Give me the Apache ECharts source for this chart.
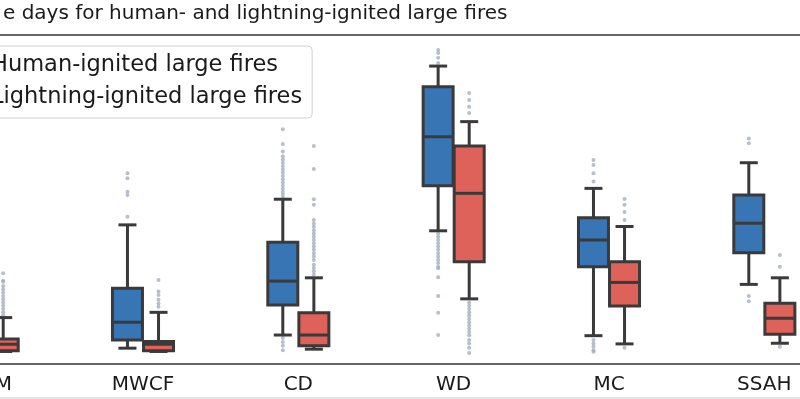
<!DOCTYPE html>
<html>
<head>
<meta charset="utf-8">
<script src="https://cdn.jsdelivr.net/npm/echarts@6/dist/echarts.min.js"></script>
<style>
  html, body { margin: 0; padding: 0; background: #fff; overflow: hidden; width: 800px; height: 399px; position: relative; }
  /* the figure is a crop: the plot runs past both sides of the window */
  #chart { position: absolute; left: -90px; top: 0; width: 932px; height: 399px; }
</style>
</head>
<body>
<div id="chart"></div>
<script>
// ecoregions (first one is cut off at the left edge)
var categories = ['WFM', 'MWCF', 'CD', 'WD', 'MC', 'SSAH'];

// [low whisker, Q1, median, Q3, high whisker]
var humanBoxes = [
    [3.0, 5.0, 8.0, 12.0, 20.0],
    [4.6, 7.1, 12.5, 22.8, 42.1],
    [8.6, 17.7, 25.0, 36.8, 49.9],
    [40.3, 54.0, 68.9, 84.1, 90.4],
    [8.4, 29.4, 37.5, 44.3, 53.2],
    [24.0, 33.6, 42.6, 51.2, 61.0]
];
var lightningBoxes = [
    [3.6, 3.8, 5.8, 7.4, 13.9],
    [3.6, 3.8, 5.8, 6.6, 15.5],
    [4.3, 5.3, 8.6, 15.4, 26.0],
    [19.6, 30.9, 51.7, 66.1, 73.5],
    [5.9, 17.4, 24.6, 30.9, 41.6],
    [6.1, 8.8, 13.7, 18.3, 26.0]
];

// fliers per ecoregion
var humanOutliers = [
    [22, 25, 30],
    [44.6, 51.2, 52.2, 56.3, 57.8],
    [50.3, 51.2, 52.1, 53, 54, 55, 56, 57, 58, 59, 60, 61, 62, 63, 64.4, 66.7, 71.2, 7.7, 6.5, 5.3, 4.0],
    [91.3, 92.9, 94.4, 95.3, 39.5, 38.5, 37.5, 36.5, 35.5, 34.5, 33.5, 32.5, 31.5, 30.5, 29.4, 28.9, 26.2, 20.5, 15.4, 8.6],
    [55.3, 57.8, 60.3, 61.8, 7.1, 6.0, 5.0, 4.0, 3.5],
    [66.9, 68.4, 20.5, 18.9]
];
var lightningOutliers = [
    [14.5, 15.5, 16.5, 17.5, 18.5, 19.5, 20.5, 21.5, 22.5, 23.5, 24.8, 25.1, 27.4],
    [17.2, 18.2, 19.3, 20.8, 21.8, 25.3],
    [26.9, 28, 29, 30, 31.4, 32.5, 33.5, 34.5, 35.5, 36.5, 37.5, 38.5, 39.5, 40.5, 41.5, 42.5, 43.6, 48.2, 49.9, 59.1, 66.1],
    [76.1, 78.0, 80.1, 82.2, 18.5, 17.5, 16.5, 15.5, 14.5, 13.5, 12.5, 11.5, 10.5, 9.5, 8.5, 7.1, 6.0, 4.7, 3.1],
    [43.6, 46.0, 48.2, 50.0, 4.7],
    [29.4, 32.9, 5.0]
];

var BLUE = '#3775b4';
var RED = '#de6259';
var EDGE = '#3a3a3a';
var FLIER = '#a2afc1';

function boxRows(boxes) {
    return boxes.map(function (b, i) { return [i].concat(b); });
}
function flierRows(list) {
    var out = [];
    list.forEach(function (vals, i) {
        vals.forEach(function (v) { out.push([i, v]); });
    });
    return out;
}

// draws a seaborn-like box, shifted sideways by a fraction of the band
function boxRenderer(shift, fill) {
    return function (params, api) {
        var cat = api.value(0);
        var low = api.coord([cat, api.value(1)]);
        var q1 = api.coord([cat, api.value(2)]);
        var med = api.coord([cat, api.value(3)]);
        var q3 = api.coord([cat, api.value(4)]);
        var high = api.coord([cat, api.value(5)]);
        var band = api.size([1, 0])[0];
        var cx = low[0] + band * shift;
        var bw = 30;
        var cw = 9;
        var line = { stroke: EDGE, lineWidth: 3 };
        return {
            type: 'group',
            children: [
                { type: 'line', shape: { x1: cx, y1: high[1], x2: cx, y2: q3[1] }, style: line },
                { type: 'line', shape: { x1: cx, y1: q1[1], x2: cx, y2: low[1] }, style: line },
                { type: 'line', shape: { x1: cx - cw, y1: high[1], x2: cx + cw, y2: high[1] }, style: line },
                { type: 'line', shape: { x1: cx - cw, y1: low[1], x2: cx + cw, y2: low[1] }, style: line },
                {
                    type: 'rect',
                    shape: { x: cx - bw / 2, y: q3[1], width: bw, height: q1[1] - q3[1] },
                    style: { fill: fill, stroke: EDGE, lineWidth: 3 }
                },
                { type: 'line', shape: { x1: cx - bw / 2, y1: med[1], x2: cx + bw / 2, y2: med[1] }, style: line }
            ]
        };
    };
}

var chart = echarts.init(document.getElementById('chart'));
var option = {
    animation: false,
    textStyle: { fontFamily: 'DejaVu Sans' },
    title: {
        text: 'e days for human- and lightning-ignited large fires',
        left: 88,
        top: -1,
        textStyle: { fontSize: 20, fontWeight: 'normal', color: '#1a1a1a', fontFamily: 'DejaVu Sans' }
    },
    legend: {
        orient: 'vertical',
        left: 45,
        top: 46,
        padding: [7, 10, 9, 10],
        itemWidth: 28,
        itemHeight: 14,
        itemGap: 8,
        borderColor: '#d0d0d0',
        borderWidth: 1,
        borderRadius: 4,
        textStyle: { fontSize: 22.5, lineHeight: 24, color: '#1a1a1a', fontFamily: 'DejaVu Sans' },
        data: ['Human-ignited large fires', 'Lightning-ignited large fires']
    },
    graphic: [
        {
            type: 'line',
            shape: { x1: 90, y1: 398, x2: 890, y2: 398 },
            style: { stroke: '#c8c8c8', lineWidth: 1 }
        }
    ],
    grid: { left: 0, right: 0, top: 34.5, bottom: 35.7 },
    xAxis: [
        {
            type: 'category',
            data: categories,
            axisLine: { lineStyle: { color: '#333', width: 1.5 } },
            axisTick: { alignWithLabel: true, length: 6, lineStyle: { color: '#333', width: 1.5 } },
            axisLabel: { fontSize: 20, color: '#1a1a1a', margin: 11, fontFamily: 'DejaVu Sans' },
            splitLine: { show: false }
        },
        {
            type: 'category',
            position: 'top',
            data: categories,
            axisLine: { lineStyle: { color: '#333', width: 1.5 } },
            axisTick: { show: false },
            axisLabel: { show: false }
        }
    ],
    yAxis: {
        type: 'value',
        min: 0,
        max: 100,
        show: false,
        splitLine: { show: false }
    },
    series: [
        {
            name: 'Human-ignited large fires',
            type: 'scatter',
            symbol: 'circle',
            symbolSize: 4,
            symbolOffset: [-15.5, 0],
            itemStyle: { color: FLIER },
            data: flierRows(humanOutliers),
            z: 1
        },
        {
            name: 'Lightning-ignited large fires',
            type: 'scatter',
            symbol: 'circle',
            symbolSize: 4,
            symbolOffset: [15.5, 0],
            itemStyle: { color: FLIER },
            data: flierRows(lightningOutliers),
            z: 1
        },
        {
            name: 'Human-ignited large fires',
            type: 'custom',
            itemStyle: { color: BLUE },
            renderItem: boxRenderer(-0.1, BLUE),
            encode: { x: 0, y: [1, 2, 3, 4, 5] },
            data: boxRows(humanBoxes),
            z: 2
        },
        {
            name: 'Lightning-ignited large fires',
            type: 'custom',
            itemStyle: { color: RED },
            renderItem: boxRenderer(0.1, RED),
            encode: { x: 0, y: [1, 2, 3, 4, 5] },
            data: boxRows(lightningBoxes),
            z: 2
        }
    ]
};
chart.setOption(option);
</script>
</body>
</html>
